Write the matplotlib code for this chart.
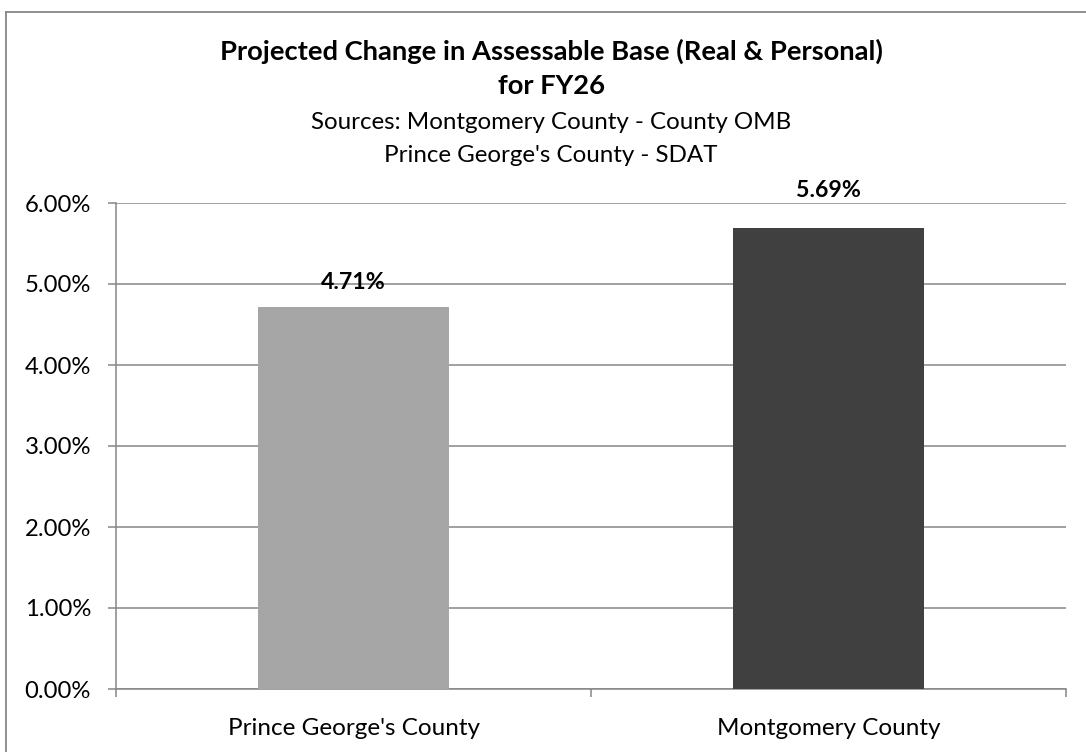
import matplotlib
matplotlib.use("Agg")
import matplotlib.pyplot as plt
from matplotlib.lines import Line2D
from matplotlib.ticker import FuncFormatter

# Data
counties = ["Prince George's County", "Montgomery County"]
change_pct = [4.71, 5.69]
bar_colors = ["#A6A6A6", "#404040"]
label_offsets = [18, 31]  # px gap above the bar top, as in the original
y_ticks = [0, 1, 2, 3, 4, 5, 6]

title_lines = ["Projected Change in Assessable Base (Real & Personal)", "for FY26"]
source_lines = ["Sources: Montgomery County - County OMB", "Prince George's County - SDAT"]

plt.rcParams['font.family'] = ['Lato', 'DejaVu Sans']
gray = "#868686"

W, H = 1086, 752
fig = plt.figure(figsize=(W / 100, H / 100), dpi=100)
ax = fig.add_axes([116 / W, 1 - 689 / H, 950 / W, 486 / H])

x = list(range(len(counties)))
ax.bar(x, change_pct, width=0.402, color=bar_colors, zorder=3)

ax.set_xlim(-0.5, len(counties) - 0.5)
ax.set_ylim(0, 6)
ax.set_yticks(y_ticks)
ax.yaxis.set_major_formatter(FuncFormatter(lambda v, p: f"{v:.2f}%"))
ax.grid(axis='y', color=gray, linewidth=1.1, zorder=0)

ax.set_xticks(x)
ax.set_xticklabels(counties)
ax.set_xticks([i - 0.5 for i in range(len(counties) + 1)], minor=True)
ax.tick_params(axis='x', which='major', length=0, pad=21, labelsize=17.5)
ax.tick_params(axis='x', which='minor', length=6, width=1.1, color=gray, direction='out')
ax.tick_params(axis='y', length=6, width=1.1, color=gray, labelsize=17.2, pad=12)

for s in ['top', 'right']:
    ax.spines[s].set_visible(False)
for s in ['left', 'bottom']:
    ax.spines[s].set_color(gray)
    ax.spines[s].set_linewidth(1.1)

# value labels
for xi, v, off in zip(x, change_pct, label_offsets):
    ax.annotate(f"{v:.2f}%", (xi, v), xytext=(0, off * 0.72), textcoords='offset points',
                ha='center', va='baseline', fontsize=16.7, fontweight='bold')

# titles
cx = 551 / W
fig.text(cx, 1 - 60 / H, title_lines[0], ha='center', va='baseline', fontsize=19.7, fontweight='bold')
fig.text(cx, 1 - 94 / H, title_lines[1], ha='center', va='baseline', fontsize=19.7, fontweight='bold')
fig.text(cx, 1 - 129 / H, source_lines[0], ha='center', va='baseline', fontsize=17.4)
fig.text(cx, 1 - 162 / H, source_lines[1], ha='center', va='baseline', fontsize=17.4)

# chart-area border (right and bottom edges fall outside the picture)
fig.add_artist(Line2D([6 / W, 1], [1 - 12 / H, 1 - 12 / H], color=gray, lw=1.3))
fig.add_artist(Line2D([6 / W, 6 / W], [0, 1 - 12 / H], color=gray, lw=1.3))

fig.savefig("out.png", dpi=100)
